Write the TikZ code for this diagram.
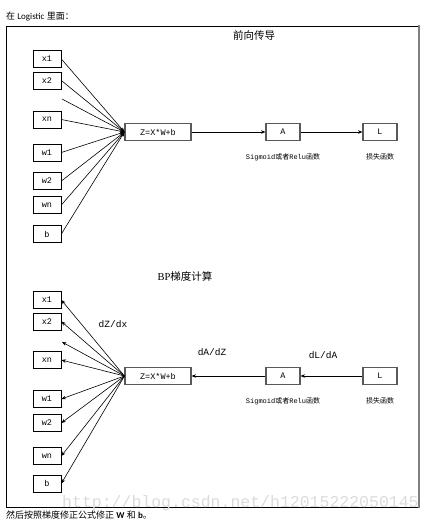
\documentclass[tikz,border=0pt]{standalone}
\usepackage{fontspec}
\setmainfont{Liberation Serif}
\newfontfamily\cjk{Noto Sans CJK SC}
\newfontfamily\monof{Liberation Mono}
\newfontfamily\calib{Carlito}
\usetikzlibrary{arrows.meta}
\begin{document}
\begin{tikzpicture}[x=1pt,y=-1pt,
  inbox/.style={draw=black, line width=0.7pt, minimum width=28pt, minimum height=17pt, inner sep=0pt, font=\monof\fontsize{8.5}{9}\selectfont},
  opbox/.style={draw=black!65, line width=1.1pt, minimum height=17pt, inner sep=0pt, font=\monof\fontsize{8.5}{9}\selectfont},
  lbl/.style={font=\fontsize{7}{8}\selectfont, inner sep=0pt},
  dlbl/.style={font=\monof\fontsize{9.5}{10}\selectfont, inner sep=0pt},
  ttl/.style={font=\fontsize{10.5}{12}\selectfont, inner sep=0pt},
  conn/.style={line width=0.6pt, -{Stealth[length=4.5pt,width=3.5pt]}}
]
\useasboundingbox (0,0) rectangle (433,524);
% page texts
\node[anchor=west, inner sep=0pt, font=\fontsize{9}{10}\selectfont] (toptext) at (6,16) {{\cjk 在} {\calib Logistic} {\cjk 里面：}};
\node[anchor=west, inner sep=0pt, font=\fontsize{9}{10}\selectfont] (bottext) at (6,515) {{\cjk 然后按照梯度修正公式修正} {\calib\bfseries W} {\cjk 和} {\calib\bfseries b}{\cjk 。}};
% frame
\draw[line width=0.8pt, black] (6,26) rectangle (419,507);
\draw[line width=2pt, black!50] (419,25) -- (419,508);
% watermark
\node[anchor=base west, inner sep=0pt, text=black!14, font=\monof\fontsize{16.5}{17}\selectfont] (wm) at (62,507) {http://blog.csdn.net/h12015222050145};

% ---------- forward ----------
\node[ttl] (t1) at (254,35) {\cjk 前向传导};
\node[inbox] (fx1) at (47,59) {x1};
\node[inbox] (fx2) at (47,80.5) {x2};
\coordinate (fs) at (62,99);
\node[inbox] (fxn) at (47,119.5) {xn};
\node[inbox] (fw1) at (47,152.5) {w1};
\node[inbox] (fw2) at (47,181) {w2};
\node[inbox] (fwn) at (47,205) {wn};
\node[inbox] (fb) at (47,234) {b};
\node[opbox, minimum width=66pt] (fz) at (158,132) {Z=X*W+b};
\node[opbox, minimum width=34pt] (fa) at (283,132) {A};
\node[opbox, minimum width=34pt] (fl) at (380,132) {L};
\node[lbl] (fal) at (283,157) {{\monof Sigmoid}{\cjk 或者}{\monof Relu}{\cjk 函数}};
\node[lbl] (fll) at (380,157) {\cjk 损失函数};
\foreach \n in {fx1,fx2,fxn,fw1,fw2,fwn,fb}
  \draw[conn] (\n.east) -- (fz.west);
\draw[conn] (fs) -- (fz.west);
\draw[conn] (fz) -- (fa);
\draw[conn] (fa) -- (fl);

% ---------- backward ----------
\node[ttl] (t2) at (185,276) {BP{\cjk 梯度计算}};
\node[inbox] (bx1) at (47,300) {x1};
\node[inbox] (bx2) at (47,321.5) {x2};
\coordinate (bs) at (62,342);
\node[inbox] (bxn) at (47,360) {xn};
\node[inbox] (bw1) at (47,399) {w1};
\node[inbox] (bw2) at (47,423) {w2};
\node[inbox] (bwn) at (47,456) {wn};
\node[inbox] (bb) at (47,483.5) {b};
\node[opbox, minimum width=66pt] (bz) at (158,376) {Z=X*W+b};
\node[opbox, minimum width=34pt] (ba) at (283,376) {A};
\node[opbox, minimum width=34pt] (bl) at (380,376) {L};
\node[lbl] (bal) at (283,401) {{\monof Sigmoid}{\cjk 或者}{\monof Relu}{\cjk 函数}};
\node[lbl] (bll) at (380,401) {\cjk 损失函数};
\node[dlbl] (dzdx) at (113,324) {dZ/dx};
\node[dlbl] (dadz) at (212,352) {dA/dZ};
\node[dlbl] (dlda) at (323,355) {dL/dA};
\foreach \n in {bx1,bx2,bxn,bw1,bw2,bwn,bb}
  \draw[conn] (bz.west) -- (\n.east);
\draw[conn] (bz.west) -- (bs);
\draw[conn] (bl) -- (ba);
\draw[conn] (ba) -- (bz);
\end{tikzpicture}
\end{document}
